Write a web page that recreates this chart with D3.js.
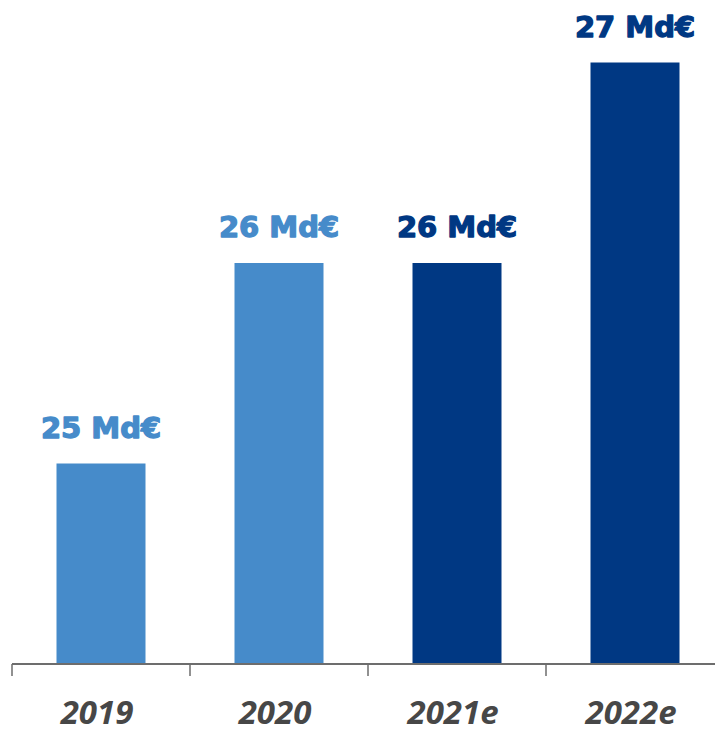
<!DOCTYPE html>
<html>
<head>
<meta charset="utf-8">
<script src="https://cdn.jsdelivr.net/npm/d3@7"></script>
<style>
  body { margin: 0; background: #fff; }
  .year { font-family: "Open Sans", sans-serif; font-weight: 700; font-style: italic; fill: #474747; }
  .value { font-family: "DejaVu Sans", Verdana, sans-serif; font-weight: 700; }
</style>
</head>
<body>
<svg width="715" height="729"></svg>
<script>
  const years = ['2019', '2020', '2021e', '2022e'];
  const values = [25, 26, 26, 27];
  const labels = ['25 Md€', '26 Md€', '26 Md€', '27 Md€'];
  const estimated = [false, false, true, true];

  const svg = d3.select('svg');
  const baseline = 664;

  const x = d3.scaleBand()
    .domain(years)
    .range([12, 724])
    .paddingInner(0.5)
    .paddingOuter(0.25);

  const y = d3.scaleLinear()
    .domain([24, 27])
    .range([baseline, 62.5]);

  const color = i => estimated[i] ? '#003883' : '#468bca';

  svg.selectAll('rect.bar').data(values)
    .enter().append('rect')
      .attr('class', 'bar')
      .attr('x', (d, i) => x(years[i]))
      .attr('y', d => y(d))
      .attr('width', x.bandwidth())
      .attr('height', d => baseline - y(d))
      .attr('fill', (d, i) => color(i));

  // heavy value labels (stroke thickens the bold face)
  svg.selectAll('text.value').data(values)
    .enter().append('text')
      .attr('class', 'value')
      .attr('x', (d, i) => x(years[i]) + x.bandwidth() / 2)
      .attr('y', d => y(d) - 26)
      .attr('text-anchor', 'middle')
      .attr('font-size', 29)
      .attr('fill', (d, i) => color(i))
      .attr('stroke', (d, i) => color(i))
      .attr('stroke-width', 1.3)
      .attr('stroke-linejoin', 'round')
      .text((d, i) => labels[i]);

  // axis line and ticks between bands
  const axisG = svg.append('g');
  axisG.append('line')
    .attr('x1', 12).attr('x2', 715)
    .attr('y1', baseline).attr('y2', baseline)
    .attr('stroke', '#6d6d6d').attr('stroke-width', 2);

  axisG.selectAll('line.tick').data(years)
    .enter().append('line')
      .attr('class', 'tick')
      .attr('x1', d => x(d) - x.step() * 0.25)
      .attr('x2', d => x(d) - x.step() * 0.25)
      .attr('y1', baseline)
      .attr('y2', baseline + 12)
      .attr('stroke', '#6d6d6d').attr('stroke-width', 1.5);

  axisG.selectAll('text.year').data(years)
    .enter().append('text')
      .attr('class', 'year')
      .attr('x', d => x(d) + x.bandwidth() / 2 - 4)
      .attr('y', 724)
      .attr('text-anchor', 'middle')
      .attr('font-size', 33)
      .text(d => d);
</script>
</body>
</html>
